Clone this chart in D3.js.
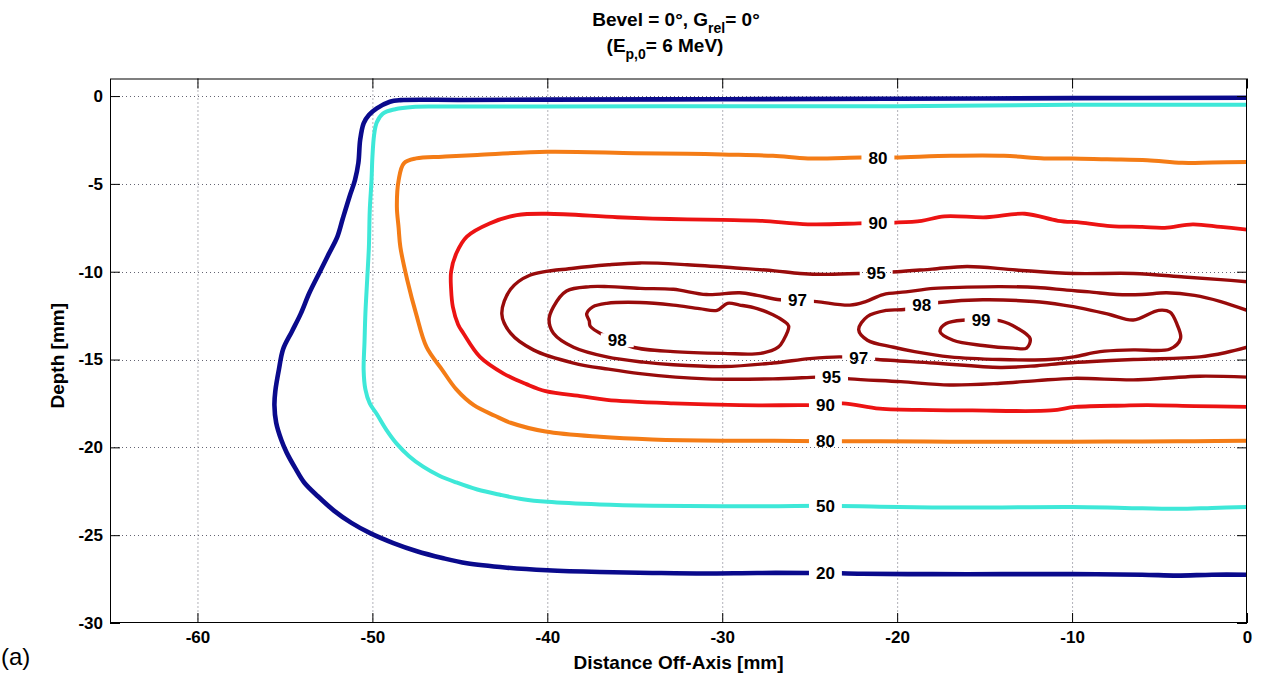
<!DOCTYPE html>
<html>
<head>
<meta charset="utf-8">
<script src="https://cdn.jsdelivr.net/npm/d3@7"></script>
<style>
  html, body { margin: 0; padding: 0; background: #fff; }
  svg { display: block; }
  text { font-family: Arial, "Liberation Sans", Helvetica, sans-serif; }
</style>
</head>
<body>
<svg id="chart" width="1261" height="676"></svg>
<script>
// ---- axis ticks ----
const xTicks = [-60, -50, -40, -30, -20, -10, 0];
const yTicks = [0, -5, -10, -15, -20, -25, -30];

// ---- isodose lines, [off-axis mm, depth mm] ----
const iso20 = [[0,-0.1],[-10,-0.12],[-20,-0.15],[-30,-0.18],[-40,-0.2],[-45,-0.22],[-48.4,-0.23],[-49.0,-0.32],
  [-49.75,-0.7],[-50.2,-1.08],[-50.5,-1.55],[-50.7,-2.5],[-50.8,-3.8],[-51.0,-4.8],[-51.3,-5.7],[-51.7,-7.0],
  [-52.0,-8.0],[-52.5,-9.0],[-53.0,-10.0],[-53.6,-11.2],[-54.1,-12.4],[-54.6,-13.4],[-55.1,-14.4],[-55.35,-15.6],
  [-55.55,-16.8],[-55.6,-17.6],[-55.5,-18.6],[-55.2,-19.6],[-54.9,-20.3],[-54.4,-21.2],[-53.9,-22.0],[-53.1,-22.8],
  [-52.2,-23.6],[-51.2,-24.3],[-50.1,-24.9],[-48.8,-25.45],[-47.5,-25.9],[-46,-26.3],[-44.6,-26.6],[-42.3,-26.85],
  [-40,-27.0],[-37,-27.1],[-34,-27.15],[-31,-27.18],[-28,-27.15],[-25,-27.15],[-24.1,-27.15],[-22,-27.2],
  [-18,-27.22],[-14,-27.22],[-10,-27.22],[-6,-27.25],[-4,-27.3],[-2,-27.25],[0,-27.25]];

const iso50 = [[0,-0.5],[-10,-0.5],[-20,-0.58],[-30,-0.58],[-40,-0.6],[-46,-0.6],[-47.7,-0.62],[-48.7,-0.75],
  [-49.4,-1.0],[-49.75,-1.5],[-49.9,-2.2],[-50.0,-3.5],[-50.05,-4.8],[-50.15,-6.5],[-50.2,-8.6],[-50.3,-10.5],
  [-50.4,-12.4],[-50.45,-14],[-50.5,-15.6],[-50.4,-16.7],[-50.15,-17.5],[-49.75,-18.1],[-49.2,-19.0],[-48.6,-19.8],
  [-47.9,-20.5],[-47.1,-21.1],[-46.2,-21.6],[-45.2,-22.0],[-44,-22.4],[-42.7,-22.7],[-41.4,-22.95],[-40,-23.1],
  [-37,-23.25],[-34,-23.32],[-30,-23.35],[-27,-23.35],[-24.1,-23.33],[-21,-23.38],[-18,-23.42],[-14,-23.42],
  [-10,-23.4],[-7,-23.45],[-4,-23.5],[-2,-23.45],[0,-23.4]];

const iso80 = [[0,-3.75],[-2,-3.78],[-3.7,-3.8],[-5.7,-3.65],[-8,-3.6],[-10,-3.55],[-11.6,-3.55],[-13.9,-3.4],
  [-16.9,-3.4],[-20.1,-3.5],[-21.1,-3.5],[-22.1,-3.5],[-25.1,-3.55],[-27.1,-3.4],[-30,-3.33],[-32,-3.28],
  [-35,-3.25],[-40,-3.17],[-44,-3.35],[-46,-3.45],[-47.5,-3.55],[-48.2,-3.83],[-48.5,-4.8],[-48.6,-6.3],
  [-48.5,-7.5],[-48.4,-8.6],[-48.0,-10.5],[-47.5,-12.4],[-46.9,-14.3],[-46.0,-15.6],[-45.2,-16.7],[-44.2,-17.6],
  [-43.0,-18.2],[-42.1,-18.6],[-40.1,-19.1],[-37,-19.4],[-34,-19.55],[-30,-19.62],[-27,-19.62],[-24.1,-19.65],
  [-21,-19.65],[-17,-19.68],[-13,-19.68],[-10,-19.68],[-6,-19.66],[-3,-19.65],[0,-19.62]];

const iso90 = [[0,-7.6],[-1.5,-7.45],[-3.1,-7.3],[-4.7,-7.5],[-6,-7.45],[-7.8,-7.4],[-9.5,-7.2],[-10.8,-7.1],
  [-12.7,-6.7],[-14.9,-6.9],[-17.3,-6.85],[-18.6,-7.1],[-20.1,-7.2],[-21.1,-7.22],[-22.2,-7.25],[-25.1,-7.3],
  [-27.8,-7.1],[-30,-7.05],[-33,-7.0],[-36,-6.9],[-40,-6.7],[-41.75,-6.78],[-43.3,-7.25],[-44.6,-8.0],
  [-45.2,-8.95],[-45.5,-10.0],[-45.5,-11.0],[-45.4,-12.0],[-45.1,-13.0],[-44.8,-13.5],[-43.85,-14.85],
  [-42.5,-15.8],[-41.2,-16.4],[-40.1,-16.8],[-38,-17.1],[-36.6,-17.3],[-32.8,-17.5],[-29,-17.6],[-25.2,-17.6],
  [-24.1,-17.62],[-23.1,-17.5],[-21,-17.8],[-18,-17.88],[-15.7,-17.9],[-11.2,-17.9],[-9.8,-17.7],[-7,-17.62],
  [-5.7,-17.6],[-3,-17.65],[0,-17.7]];

const iso95 = [[0,-10.57],[-1.5,-10.45],[-3.6,-10.3],[-6.5,-10.1],[-9.9,-10.1],[-13.2,-9.9],[-16,-9.7],[-18,-9.85],
  [-20,-10.0],[-21.1,-10.05],[-22.1,-10.1],[-24,-10.15],[-25.55,-10.1],[-27,-9.95],[-29,-9.8],[-32,-9.6],
  [-34.7,-9.5],[-36.5,-9.6],[-38.5,-9.8],[-41,-10.2],[-42.1,-11.0],[-42.6,-12.4],[-42.1,-13.5],[-40.8,-14.45],
  [-38.5,-15.2],[-36.5,-15.55],[-34.7,-15.8],[-30.9,-16.1],[-27.1,-16.1],[-24.6,-16.0],[-23.75,-15.98],
  [-22.7,-16.1],[-19.8,-16.26],[-17,-16.45],[-14.1,-16.35],[-12,-16.2],[-9.9,-16.07],[-6.5,-16.16],[-4.5,-16.05],
  [-2.7,-15.95],[0,-16.0]];

const iso97 = [[0,-12.2],[-1.5,-11.7],[-3,-11.35],[-4.6,-11.2],[-6,-11.3],[-7.45,-11.3],[-9,-11.15],[-10.3,-11.05],
  [-12,-10.9],[-14.1,-10.85],[-16,-10.88],[-17.9,-10.95],[-19.5,-11.15],[-20.8,-11.3],[-21.8,-11.7],[-22.7,-11.9],
  [-24.6,-11.7],[-25.7,-11.62],[-26.7,-11.6],[-28,-11.35],[-29,-11.2],[-30.9,-11.3],[-32.8,-11.0],[-34.7,-10.95],
  [-36.5,-10.85],[-37.55,-10.85],[-38.9,-11.1],[-39.65,-12.0],[-39.9,-12.75],[-39.65,-13.5],[-38.5,-14.3],
  [-36.6,-14.85],[-34.5,-15.15],[-32.8,-15.3],[-29.9,-15.4],[-27.1,-15.2],[-25,-14.95],[-23.3,-14.85],
  [-22.2,-14.9],[-21.1,-15.0],[-17.9,-15.2],[-14.1,-15.45],[-12,-15.35],[-10.3,-15.2],[-6.5,-15.0],[-2.7,-14.85],
  [-1.2,-14.6],[0,-14.3]];

const iso98a = [[-36.0,-13.9],[-35.1,-14.3],[-32.8,-14.55],[-29.95,-14.65],[-27.8,-14.65],[-26.8,-14.3],
  [-26.5,-13.9],[-26.2,-13.1],[-26.5,-12.8],[-27.1,-12.45],[-28,-12.1],[-29.0,-11.9],[-29.7,-11.8],[-30.3,-12.2],
  [-31.3,-12.1],[-32.8,-11.9],[-34.7,-11.75],[-36.6,-11.8],[-37.4,-12.0],[-37.75,-12.4],[-37.6,-12.8],
  [-37.55,-13.1],[-36.8,-13.6],[-36.0,-13.9]];

const iso98b = [[-18.6,-11.9],[-17.6,-11.75],[-15.1,-11.6],[-12.2,-11.7],[-10.5,-11.9],[-9.35,-12.1],[-7.8,-12.45],
  [-6.5,-12.75],[-5.05,-12.2],[-4.4,-12.3],[-4.0,-13.0],[-3.8,-13.8],[-4.4,-14.4],[-6.5,-14.45],[-8.4,-14.55],
  [-9.9,-14.85],[-11.3,-15.0],[-14.1,-15.0],[-17.0,-14.85],[-19.0,-14.55],[-20.2,-14.3],[-21.7,-13.9],
  [-22.2,-13.3],[-21.7,-12.55],[-20.6,-12.2],[-19.6,-12.15],[-18.6,-11.9]];

const iso99 = [[-15.2,-12.75],[-14.1,-12.8],[-13.15,-13.2],[-12.4,-13.8],[-12.6,-14.35],[-13.35,-14.35],
  [-15.1,-14.2],[-16.8,-13.9],[-17.55,-13.4],[-17.2,-12.95],[-16.1,-12.75],[-15.2,-12.75]];

// ---- in-line level labels: [level, off-axis mm, depth mm] ----
const isoLabels = [[20,-24.1,-27.15],[50,-24.1,-23.35],[80,-21.1,-3.5],[80,-24.1,-19.65],
  [90,-21.1,-7.22],[90,-24.1,-17.6],[95,-21.2,-10.05],[95,-23.75,-15.98],[97,-25.7,-11.62],
  [97,-22.2,-14.9],[98,-36.0,-13.9],[98,-18.6,-11.9],[99,-15.2,-12.75]];

const isoLines = [
  {level: 20, pts: iso20}, {level: 50, pts: iso50}, {level: 80, pts: iso80}, {level: 90, pts: iso90},
  {level: 95, pts: iso95}, {level: 97, pts: iso97}, {level: 98, pts: iso98a}, {level: 98, pts: iso98b},
  {level: 99, pts: iso99}
];

// ---- styling ----
const levelColor = l => l <= 20 ? "#0a0a8c" : l <= 50 ? "#3ee8d8" : l <= 80 ? "#f47c16" : l <= 90 ? "#ec1313" : "#980b0b";
const levelWidth = l => l <= 20 ? 4.6 : l <= 80 ? 4.0 : l <= 90 ? 3.8 : 3.4;

const svg = d3.select("#chart");
const W = 1261, H = 676;
const m = {left: 110, right: 1247, top: 78.5, bottom: 623};

const x = d3.scaleLinear().domain([-65, 0]).range([m.left, m.right]);
const y = d3.scaleLinear().domain([-30, 1]).range([m.bottom, m.top]);

svg.append("rect").attr("width", W).attr("height", H).attr("fill", "#fff");

const defs = svg.append("defs");
defs.append("clipPath").attr("id", "plotClip")
  .append("rect").attr("x", m.left).attr("y", m.top)
  .attr("width", m.right - m.left).attr("height", m.bottom - m.top);

// grid (dotted)
const grid = svg.append("g").attr("stroke", "#4a4a5a").attr("stroke-width", 1)
  .attr("stroke-dasharray", "1,3").attr("opacity", 0.85);
grid.selectAll("line.gx").data(xTicks.filter(v => v > -65 && v < 0)).join("line")
  .attr("x1", d => x(d) + 0.5).attr("x2", d => x(d) + 0.5)
  .attr("y1", m.top).attr("y2", m.bottom);
grid.selectAll("line.gy").data(yTicks.filter(v => v > -30 && v < 1)).join("line")
  .attr("y1", d => Math.round(y(d)) + 0.5).attr("y2", d => Math.round(y(d)) + 0.5)
  .attr("x1", m.left).attr("x2", m.right);

// label text first so the gaps can be sized
const labelFont = 17;
const labelG = svg.append("g").attr("font-size", labelFont).attr("font-weight", "bold")
  .attr("fill", "#000").attr("text-anchor", "middle");
const labelTexts = labelG.selectAll("text").data(isoLabels).join("text")
  .attr("x", d => x(d[1])).attr("y", d => y(d[2]))
  .attr("dy", "0.36em")
  .text(d => d[0]);

// mask cutting each line where its label sits
const mask = defs.append("mask").attr("id", "labelGaps").attr("maskUnits", "userSpaceOnUse")
  .attr("x", 0).attr("y", 0).attr("width", W).attr("height", H);
mask.append("rect").attr("width", W).attr("height", H).attr("fill", "#fff");
labelTexts.each(function(d) {
  const w = this.getComputedTextLength();
  mask.append("rect")
    .attr("x", x(d[1]) - w / 2 - 7).attr("y", y(d[2]) - 7)
    .attr("width", w + 14).attr("height", 14).attr("fill", "#000");
});

const line = d3.line().x(d => x(d[0])).y(d => y(d[1])).curve(d3.curveCatmullRom.alpha(0.5));

const linesG = svg.insert("g", () => labelG.node())
  .attr("clip-path", "url(#plotClip)")
  .append("g").attr("mask", "url(#labelGaps)");
linesG.selectAll("path").data(isoLines).join("path")
  .attr("d", d => line(d.pts))
  .attr("fill", "none")
  .attr("stroke", d => levelColor(d.level))
  .attr("stroke-width", d => levelWidth(d.level))
  .attr("stroke-linejoin", "round")
  .attr("stroke-linecap", "round");

// axes with inward ticks on all four sides
const tickLen = 10;
const fmt = d => String(d);
const axB = svg.append("g").attr("transform", `translate(0,${m.bottom})`)
  .call(d3.axisBottom(x).tickValues(xTicks).tickSize(-tickLen).tickPadding(8).tickFormat(fmt));
const axT = svg.append("g").attr("transform", `translate(0,${m.top})`)
  .call(d3.axisTop(x).tickValues(xTicks).tickSize(-tickLen).tickFormat(""));
const axL = svg.append("g").attr("transform", `translate(${m.left},0)`)
  .call(d3.axisLeft(y).tickValues(yTicks).tickSize(-tickLen).tickPadding(7).tickFormat(fmt));
const axR = svg.append("g").attr("transform", `translate(${m.right},0)`)
  .call(d3.axisRight(y).tickValues(yTicks).tickSize(-tickLen).tickFormat(""));

[axB, axT, axL, axR].forEach(a => {
  a.select(".domain").remove();
  a.selectAll(".tick line").attr("stroke", "#000").attr("stroke-width", 1);
  a.selectAll("text").attr("font-family", "Arial, 'Liberation Sans', sans-serif")
    .attr("font-size", 17).attr("font-weight", "bold").attr("fill", "#000");
});

// frame
svg.append("rect")
  .attr("x", m.left + 0.5).attr("y", m.top + 0.5)
  .attr("width", m.right - m.left - 1).attr("height", m.bottom - m.top - 1)
  .attr("fill", "none").attr("stroke", "#000").attr("stroke-width", 1);

// axis titles
svg.append("text")
  .attr("x", (m.left + m.right) / 2).attr("y", 669)
  .attr("text-anchor", "middle").attr("font-size", 19).attr("font-weight", "bold")
  .text("Distance Off-Axis [mm]");

svg.append("text")
  .attr("transform", `translate(64,${(m.top + m.bottom) / 2 + 5}) rotate(-90)`)
  .attr("text-anchor", "middle").attr("font-size", 19).attr("font-weight", "bold")
  .text("Depth [mm]");

// title with subscripts
const t1 = svg.append("text").attr("x", 676).attr("y", 26)
  .attr("text-anchor", "middle").attr("font-size", 19).attr("font-weight", "bold");
t1.append("tspan").text("Bevel = 0°, G");
t1.append("tspan").attr("font-size", 14).attr("dy", 7).text("rel");
t1.append("tspan").attr("dy", -7).text("= 0°");

const t2 = svg.append("text").attr("x", 665).attr("y", 52)
  .attr("text-anchor", "middle").attr("font-size", 19).attr("font-weight", "bold");
t2.append("tspan").text("(E");
t2.append("tspan").attr("font-size", 14).attr("dy", 7).text("p,0");
t2.append("tspan").attr("dy", -7).text("= 6 MeV)");

// panel tag
svg.append("text").attr("x", 1).attr("y", 665)
  .attr("font-family", "'Liberation Serif', 'Times New Roman', serif")
  .attr("font-size", 24).text("(a)");
</script>
</body>
</html>
